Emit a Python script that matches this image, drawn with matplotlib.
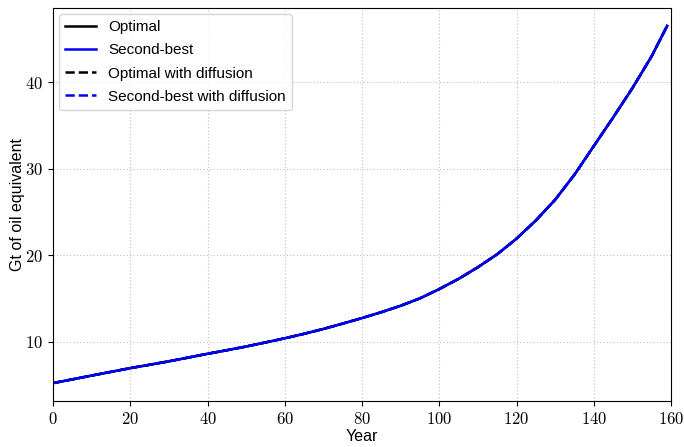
import matplotlib
matplotlib.use("Agg")
from matplotlib import pyplot as plt
from matplotlib.ticker import FuncFormatter

# energy use (Gt of oil equivalent)
years = [0, 5, 10, 15, 20, 25, 30, 35, 40, 45, 50, 55, 60, 65, 70, 75, 80, 85, 90, 95,
         100, 105, 110, 115, 120, 125, 130, 135, 140, 145, 150, 155, 159]
optimal = [5.2, 5.63, 6.07, 6.5, 6.93, 7.32, 7.72, 8.15, 8.59, 9.0, 9.43, 9.9, 10.38, 10.9, 11.46, 12.08, 12.72, 13.4, 14.14, 15.0,
           16.07, 17.25, 18.6, 20.1, 21.9, 24.0, 26.4, 29.3, 32.6, 35.9, 39.3, 43.0, 46.5]
second_best = [5.2, 5.63, 6.07, 6.5, 6.93, 7.32, 7.72, 8.15, 8.59, 9.0, 9.43, 9.9, 10.38, 10.9, 11.46, 12.08, 12.72, 13.4, 14.14, 15.0,
               16.07, 17.25, 18.6, 20.1, 21.9, 24.0, 26.4, 29.3, 32.6, 35.9, 39.3, 43.0, 46.5]
optimal_diff = [5.2, 5.63, 6.07, 6.5, 6.93, 7.32, 7.72, 8.15, 8.59, 9.0, 9.43, 9.9, 10.38, 10.9, 11.46, 12.08, 12.72, 13.4, 14.14, 15.0,
                16.07, 17.25, 18.6, 20.1, 21.9, 24.0, 26.4, 29.3, 32.6, 35.9, 39.3, 43.0, 46.5]
second_best_diff = [5.2, 5.63, 6.07, 6.5, 6.93, 7.32, 7.72, 8.15, 8.59, 9.0, 9.43, 9.9, 10.38, 10.9, 11.46, 12.08, 12.72, 13.4, 14.14, 15.0,
                    16.07, 17.25, 18.6, 20.1, 21.9, 24.0, 26.4, 29.3, 32.6, 35.9, 39.3, 43.0, 46.5]

plt.rcParams["font.family"] = ["Liberation Sans", "DejaVu Sans"]
plt.rcParams["mathtext.fontset"] = "cm"

fig, ax = plt.subplots(figsize=(6.84, 4.47), dpi=100)
fig.subplots_adjust(left=0.0775, right=0.981, top=0.982, bottom=0.103)

ax.plot(years, optimal, c="black", lw=1.8, label="Optimal")
ax.plot(years, second_best, c="blue", lw=1.8, label="Second-best")
ax.plot(years, optimal_diff, c="black", lw=1.8, ls="--", label="Optimal with diffusion")
ax.plot(years, second_best_diff, c="blue", lw=1.8, ls="--", label="Second-best with diffusion")

ax.set_xlim(0, 160)
ax.set_xticks(range(0, 161, 20))
ax.set_yticks([10, 20, 30, 40])
fmt = FuncFormatter(lambda v, pos: r"$%d$" % v)
ax.xaxis.set_major_formatter(fmt)
ax.yaxis.set_major_formatter(fmt)
ax.tick_params(labelsize=12)

ax.grid(True, ls=(0, (1, 2)), c="#bdbdbd", lw=0.8)
ax.set_xlabel("Year", fontsize=11.5, labelpad=2)
ax.set_ylabel("Gt of oil equivalent", fontsize=11.5, labelpad=0)
ax.legend(loc="upper left", fontsize=11, labelspacing=0.6, borderaxespad=0.4)

fig.savefig("out.png")
